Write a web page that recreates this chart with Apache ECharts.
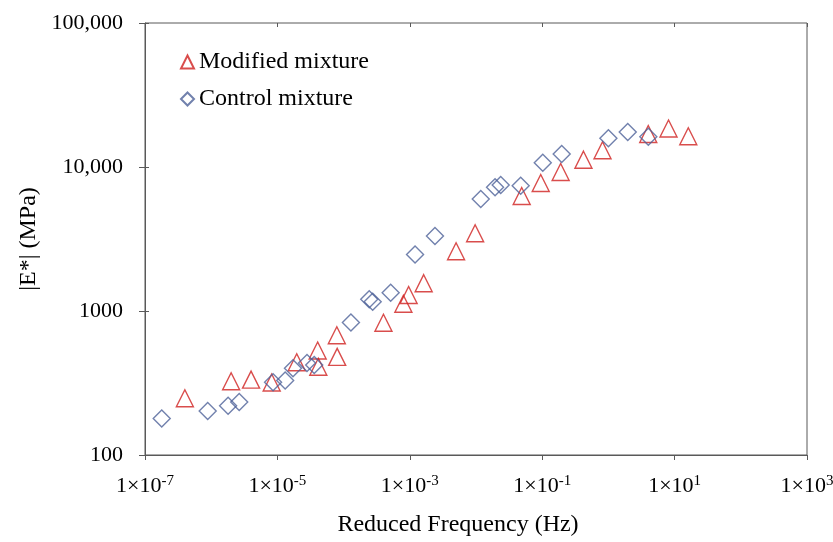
<!DOCTYPE html>
<html>
<head>
<meta charset="utf-8">
<script src="https://cdn.jsdelivr.net/npm/echarts@6/dist/echarts.min.js"></script>
<style>
  html, body { margin: 0; padding: 0; background: #ffffff; }
  #chart { width: 833px; height: 542px; }
</style>
</head>
<body>
<div id="chart"></div>
<script>
  // reduced frequency (Hz) and |E*| (MPa)
  var modifiedFreq = [4.0e-7, 2.0e-6, 4.0e-6, 8.2e-6, 1.96e-5, 4.06e-5, 4.15e-5, 7.9e-5, 8.0e-5,
    4.0e-4, 8.0e-4, 9.6e-4, 1.62e-3, 5.0e-3, 9.7e-3, 0.049, 0.095, 0.19, 0.42, 0.815, 4.0, 8.1, 16.1]
  var modifiedModulus = [248, 325, 334, 319, 441, 532, 410, 678, 480,
    829, 1122, 1292, 1560, 2600, 3465, 6290, 7740, 9230, 11240, 13060, 16950, 18510, 16340]

  var controlFreq = [1.79e-7, 8.85e-7, 1.8e-6, 2.65e-6, 8.6e-6, 1.31e-5, 1.72e-5, 2.8e-5, 3.6e-5,
    1.29e-4, 2.44e-4, 2.75e-4, 5.14e-4, 1.2e-3, 2.4e-3, 0.0118, 0.0194, 0.0236, 0.0473, 0.102, 0.197, 1.0, 1.96, 4.01]
  var controlModulus = [179, 202, 220, 233, 320, 329, 400, 435, 422,
    832, 1206, 1161, 1340, 2468, 3318, 5995, 7228, 7500, 7413, 10710, 12310, 15830, 17500, 16240]

  var xTicks = [1e-7, 1e-5, 1e-3, 1e-1, 1e1, 1e3]
  var yTicks = [100, 1000, 10000, 100000]

  var font = 'Liberation Serif, Times New Roman, serif'
  var axisColor = '#595959'

  function pairs(xs, ys) {
    return xs.map(function (x, i) { return [x, ys[i]] })
  }

  function yLabel(v) {
    var n = Math.round(v)
    return n >= 10000 ? n.toLocaleString('en-US') : String(n)
  }

  function xLabel(v) {
    var e = Math.round(Math.log10(v))
    return '1×10{sup|' + e + '}'
  }

  var chart = echarts.init(document.getElementById('chart'))
  var option = {
    backgroundColor: '#ffffff',
    animation: false,
    textStyle: { fontFamily: font },
    grid: {
      left: 145, right: 26, top: 23, bottom: 87,
      outerBoundsMode: 'none',
      show: true, borderColor: axisColor, borderWidth: 1
    },
    legend: {
      orient: 'vertical',
      left: 175,
      top: 45,
      itemWidth: 13,
      itemHeight: 13,
      itemGap: 13,
      textStyle: { fontFamily: font, fontSize: 24, color: '#000' },
      data: ['Modified mixture', 'Control mixture']
    },
    xAxis: [
      {
        type: 'log',
        logBase: 10,
        min: 1e-7,
        max: 1e3,
        name: 'Reduced Frequency (Hz)',
        nameLocation: 'middle',
        nameGap: 58,
        // the title sits a little left of the plot centre
        nameTextStyle: { fontFamily: font, fontSize: 24, color: '#000', padding: [0, 36, 0, 0] },
        axisLine: { lineStyle: { color: axisColor, width: 1 } },
        axisTick: { show: true, length: 5, customValues: xTicks, lineStyle: { color: axisColor } },
        minorTick: { show: false },
        splitLine: { show: false },
        axisLabel: {
          customValues: xTicks,
          margin: 19,
          formatter: xLabel,
          color: '#000',
          fontFamily: font,
          fontSize: 22,
          rich: {
            sup: { fontSize: 15, fontFamily: font, color: '#000', padding: [0, 0, 10, 0] }
          }
        }
      },
      {
        type: 'log',
        logBase: 10,
        min: 1e-7,
        max: 1e3,
        axisLine: { show: false },
        axisTick: { show: true, inside: true, length: 4, customValues: xTicks, lineStyle: { color: axisColor } },
        axisLabel: { show: false, customValues: xTicks },
        splitLine: { show: false }
      }
    ],
    yAxis: [
      {
        type: 'log',
        logBase: 10,
        min: 100,
        max: 100000,
        name: '|E*| (MPa)',
        nameLocation: 'middle',
        nameGap: 104,
        nameTextStyle: { fontFamily: font, fontSize: 24, color: '#000' },
        axisLine: { show: true, lineStyle: { color: axisColor, width: 1 } },
        axisTick: { show: true, length: 6, customValues: yTicks, lineStyle: { color: axisColor } },
        minorTick: { show: false },
        splitLine: { show: false },
        axisLabel: {
          customValues: yTicks,
          margin: 22,
          formatter: yLabel,
          color: '#000',
          fontFamily: font,
          fontSize: 22
        }
      },
      {
        type: 'log',
        logBase: 10,
        min: 100,
        max: 100000,
        position: 'left',
        axisLine: { show: false },
        axisTick: { show: true, inside: true, length: 4, customValues: yTicks, lineStyle: { color: axisColor } },
        axisLabel: { show: false, customValues: yTicks },
        splitLine: { show: false }
      }
    ],
    series: [
      {
        name: 'Modified mixture',
        type: 'scatter',
        symbol: 'triangle',
        symbolSize: 17,
        itemStyle: { color: 'rgba(255,255,255,0)', borderColor: '#d0201f', borderWidth: 1.4 },
        data: pairs(modifiedFreq, modifiedModulus)
      },
      {
        name: 'Control mixture',
        type: 'scatter',
        symbol: 'diamond',
        symbolSize: 17,
        itemStyle: { color: 'rgba(255,255,255,0)', borderColor: '#4e6299', borderWidth: 1.4 },
        data: pairs(controlFreq, controlModulus)
      }
    ]
  }
  chart.setOption(option)
</script>
</body>
</html>
